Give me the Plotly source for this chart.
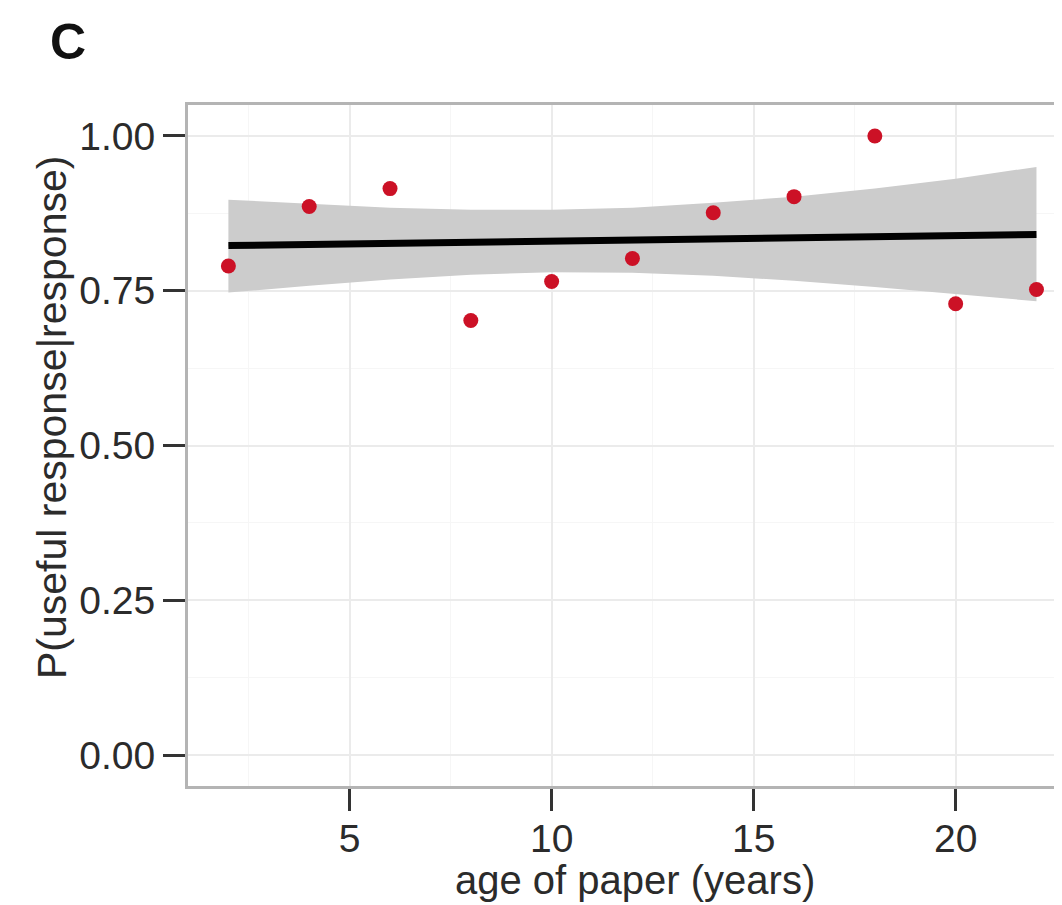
import plotly.graph_objects as go

# data
ages = [2, 4, 6, 8, 10, 12, 14, 16, 18, 20, 22]
p_useful = [0.790, 0.886, 0.915, 0.702, 0.765, 0.802, 0.876, 0.902, 1.000, 0.729, 0.752]
fit_line = [0.823, 0.825, 0.827, 0.829, 0.831, 0.832, 0.834, 0.836, 0.838, 0.840, 0.841]
fit_upper = [0.897, 0.890, 0.884, 0.881, 0.881, 0.884, 0.892, 0.902, 0.915, 0.931, 0.950]
fit_lower = [0.747, 0.758, 0.768, 0.776, 0.780, 0.779, 0.774, 0.766, 0.756, 0.745, 0.733]
x_ticks = [5, 10, 15, 20]
y_ticks = [0.00, 0.25, 0.50, 0.75, 1.00]
y_tick_labels = ["0.00", "0.25", "0.50", "0.75", "1.00"]

FONT = "Liberation Sans, Arial, sans-serif"
TXT = "#2b2b2b"

fig = go.Figure()
fig.add_trace(go.Scatter(x=ages + ages[::-1], y=fit_upper + fit_lower[::-1],
                         fill="toself", fillcolor="#cccccc", line=dict(width=0),
                         mode="lines", hoverinfo="skip", showlegend=False))
fig.add_trace(go.Scatter(x=ages, y=fit_line, mode="lines",
                         line=dict(color="black", width=7), showlegend=False))
fig.add_trace(go.Scatter(x=ages, y=p_useful, mode="markers",
                         marker=dict(color="#cc1126", size=15), showlegend=False))

axis_common = dict(
    showline=True, linecolor="#b4b4b4", linewidth=3,
    ticks="outside", ticklen=22, tickwidth=3, tickcolor="#333333",
    tickfont=dict(family=FONT, size=39, color=TXT),
    showgrid=True, gridcolor="#ebebeb", gridwidth=2, zeroline=False,
)

fig.update_layout(
    width=1062, height=905,
    margin=dict(l=180, r=0, t=97, b=127),
    paper_bgcolor="white", plot_bgcolor="white",
    xaxis=dict(range=[1.0, 22.83], tickvals=x_ticks, mirror=True, ticklabelstandoff=-6,
               minor=dict(dtick=2.5, tick0=0, showgrid=True, gridcolor="#f6f6f6", gridwidth=1, ticks=""),
               **axis_common),
    yaxis=dict(range=[-0.05, 1.05], tickvals=y_ticks, ticktext=y_tick_labels,
               minor=dict(dtick=0.125, tick0=0, showgrid=True, gridcolor="#f6f6f6", gridwidth=1, ticks=""),
               **axis_common),
    annotations=[
        dict(text="<b>C</b>", x=(68 - 188) / 882, y=(786 - 42) / 681, xref="paper", yref="paper",
             xanchor="center", yanchor="middle",
             showarrow=False, font=dict(family=FONT, size=50, color="#111111")),
        dict(text="age of paper (years)", x=(635 - 188) / 882, y=(786 - 880) / 681,
             xref="paper", yref="paper", xanchor="center", yanchor="middle",
             showarrow=False, font=dict(family=FONT, size=40, color=TXT)),
        dict(text="P(useful response|response)", x=(52 - 188) / 882, y=(786 - 418) / 681,
             xref="paper", yref="paper", xanchor="center", yanchor="middle",
             showarrow=False, textangle=-90, font=dict(family=FONT, size=41, color=TXT)),
    ],
)

fig.write_html("out.html")
